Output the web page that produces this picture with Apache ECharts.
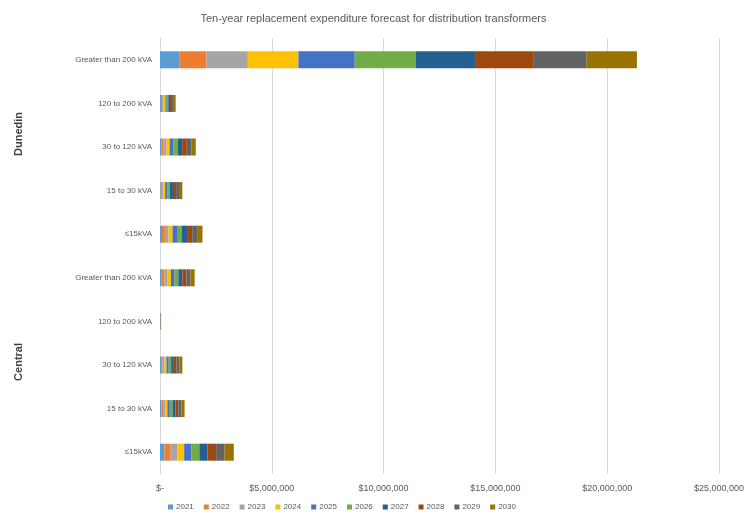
<!DOCTYPE html>
<html>
<head>
<meta charset="utf-8">
<script src="https://cdn.jsdelivr.net/npm/echarts@6/dist/echarts.min.js"></script>
<style>html,body{margin:0;padding:0;background:#fff}#c{width:747px;height:521px}</style>
</head>
<body>
<div id="c"></div>
<script>
const categories = ["Greater than 200 kVA","120 to 200 kVA","30 to 120 kVA","15 to 30 kVA","≤15kVA","Greater than 200 kVA","120 to 200 kVA","30 to 120 kVA","15 to 30 kVA","≤15kVA"];
const years = ["2021","2022","2023","2024","2025","2026","2027","2028","2029","2030"];
const groups = ["Dunedin","Central"];
// values per category row (top to bottom), one entry per year
const dunedinGT200 = [860000,1220000,1850000,2260000,2520000,2740000,2640000,2630000,2360000,2250000];
const dunedin120to200 = [40000,50000,60000,90000,60000,70000,80000,90000,80000,80000];
const dunedin30to120 = [60000,100000,130000,140000,180000,180000,200000,210000,200000,200000];
const dunedin15to30 = [30000,50000,70000,80000,90000,120000,140000,140000,130000,150000];
const dunedinLE15 = [90000,130000,160000,180000,200000,220000,230000,230000,220000,240000];
const centralGT200 = [80000,120000,140000,150000,160000,170000,180000,180000,180000,190000];
const central120to200 = [3000,4000,4000,5000,5000,5000,6000,6000,6000,6000];
const central30to120 = [50000,70000,80000,90000,100000,110000,120000,120000,130000,130000];
const central15to30 = [60000,80000,90000,100000,110000,120000,130000,130000,140000,140000];
const centralLE15 = [200000,280000,300000,300000,330000,350000,370000,380000,380000,410000];
const xTicks = ["$-","$5,000,000","$10,000,000","$15,000,000","$20,000,000","$25,000,000"];

const rows = [dunedinGT200,dunedin120to200,dunedin30to120,dunedin15to30,dunedinLE15,centralGT200,central120to200,central30to120,central15to30,centralLE15];
const colors = ["#5B9BD5","#ED7D31","#A5A5A5","#FFC000","#4472C4","#70AD47","#255E91","#9E480E","#636363","#997300"];

const series = years.map((y,i)=>({
  name:y, type:'bar', stack:'total', barWidth:'39%',
  itemStyle:{color:colors[i]},
  data: rows.map(r=>r[i])
}));

const chart = echarts.init(document.getElementById('c'));
chart.setOption({
  animation:false,
  title:{text:"Ten-year replacement expenditure forecast for distribution transformers",left:'center',top:8,
    textStyle:{fontFamily:'Liberation Sans',fontSize:11,fontWeight:'normal',color:'#595959'}},
  grid:{left:160,right:27,top:38,bottom:47},
  legend:{data:years,bottom:5,left:163,itemWidth:5,itemHeight:5,itemGap:10,icon:'rect',
    textStyle:{fontFamily:'Liberation Sans',fontSize:8,color:'#595959',padding:[0,0,0,-2]}},
  xAxis:{type:'value',min:0,max:25000000,interval:5000000,
    axisLine:{show:false},axisTick:{show:false},
    splitLine:{lineStyle:{color:'#D9D9D9'}},
    axisLabel:{fontFamily:'Liberation Sans',fontSize:9,color:'#595959',margin:10,
      formatter:(v)=>xTicks[Math.round(v/5000000)]}},
  yAxis:{type:'category',data:categories,inverse:true,
    axisLine:{lineStyle:{color:'#D9D9D9'}},axisTick:{show:false},
    axisLabel:{fontFamily:'Liberation Sans',fontSize:8,color:'#595959',margin:8}},
  graphic:[
    {type:'text',left:13,top:112,rotation:Math.PI/2,style:{text:groups[0],font:'bold 11px Liberation Sans',fill:'#404040'}},
    {type:'text',left:13,top:343,rotation:Math.PI/2,style:{text:groups[1],font:'bold 11px Liberation Sans',fill:'#404040'}}
  ],
  series:series
});
</script>
</body>
</html>
